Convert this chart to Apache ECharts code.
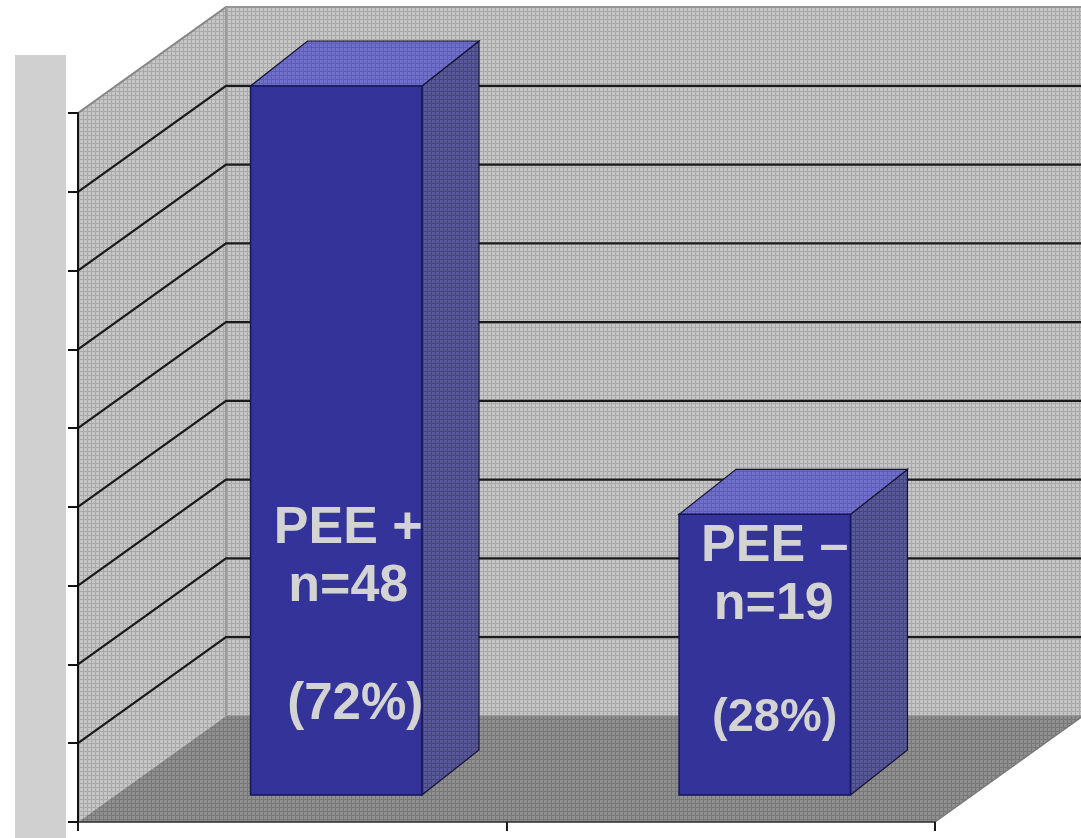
<!DOCTYPE html>
<html>
<head>
<meta charset="utf-8">
<script src="https://cdn.jsdelivr.net/npm/echarts@6/dist/echarts.min.js"></script>
<style>
  html, body { margin: 0; padding: 0; background: #ffffff; }
  #chart { width: 1081px; height: 838px; }
</style>
</head>
<body>
<div id="chart"></div>
<script>
// Patients split by PEE status
const categories = ['PEE +', 'PEE –'];
const counts = [48, 19];

// Value axis: 0..48 in nine steps
const axisMin = 0;
const axisMax = 48;
const axisSteps = 9;

const total = counts.reduce((a, b) => a + b, 0);
const percents = counts.map(c => Math.round(c / total * 100));

// Oblique 3D projection settings (pixels)
const WALL_DEPTH = [148, -106];   // front plane -> back wall
const BAR_SHIFT = [44, -27];      // front plane -> bar front face
const BAR_DEPTH = [57, -45];      // bar front face -> bar back face
const BAR_WIDTH_RATIO = 0.4;

// Text placement inside each bar: vertical offsets from the bar foot,
// horizontal offsets from the front-face centre, font sizes per line
const labelLayout = [
  { lines: [-266, -208, -90], dx: [12, 12, 19], size: [52, 52, 51] },
  { lines: [-248, -190, -77], dx: [10, 9, 10], size: [52, 52, 47] }
];

function makePattern(base, line, size) {
  const c = document.createElement('canvas');
  c.width = size; c.height = size;
  const g = c.getContext('2d');
  g.fillStyle = base;
  g.fillRect(0, 0, size, size);
  g.fillStyle = line;
  g.fillRect(size - 1, 0, 1, size);
  g.fillRect(0, size - 1, size, 1);
  return { image: c, repeat: 'repeat' };
}

const wallFill = makePattern('#c6c6c6', '#a9a9a9', 4);
const floorFill = makePattern('#8f8f8f', '#787878', 4);
const barSideFill = makePattern('#58589a', '#46467f', 4);
const barTopFill = makePattern('#7070cc', '#5d5db4', 4);

const step = (axisMax - axisMin) / axisSteps;
const gridValues = [];
for (let k = 1; k < axisSteps; k++) gridValues.push(axisMin + k * step);

function add(p, d) { return [p[0] + d[0], p[1] + d[1]]; }

function renderWalls(params, api) {
  const cs = params.coordSys;
  const x0 = cs.x, x1 = cs.x + cs.width;
  const yTop = api.coord([0, axisMax])[1];
  const yBot = api.coord([0, axisMin])[1];
  const D = WALL_DEPTH;
  const fl = [x0, yBot], fr = [x1, yBot], tl = [x0, yTop], tr = [x1, yTop];
  const children = [];
  // back wall
  children.push({
    type: 'polygon',
    shape: { points: [add(tl, D), add(tr, D), add(fr, D), add(fl, D)] },
    style: { fill: wallFill, stroke: '#969696', lineWidth: 2 }
  });
  // side wall
  children.push({
    type: 'polygon',
    shape: { points: [tl, add(tl, D), add(fl, D), fl] },
    style: { fill: wallFill, stroke: null }
  });
  children.push({
    type: 'line',
    shape: { x1: tl[0], y1: tl[1], x2: tl[0] + D[0], y2: tl[1] + D[1] },
    style: { stroke: '#858585', lineWidth: 2 }
  });
  // floor
  children.push({
    type: 'polygon',
    shape: { points: [fl, fr, add(fr, D), add(fl, D)] },
    style: { fill: floorFill, stroke: null }
  });
  children.push({
    type: 'line',
    shape: { x1: fr[0], y1: fr[1], x2: fr[0] + D[0], y2: fr[1] + D[1] },
    style: { stroke: '#777777', lineWidth: 1.5 }
  });
  // wall corner edge
  children.push({
    type: 'line',
    shape: { x1: x0 + D[0], y1: yTop + D[1], x2: x0 + D[0], y2: yBot + D[1] },
    style: { stroke: '#9a9a9a', lineWidth: 2 }
  });
  // gridlines on side wall and back wall
  gridValues.forEach(v => {
    const y = api.coord([0, v])[1];
    children.push({
      type: 'polyline',
      shape: { points: [[x0, y], [x0 + D[0], y + D[1]], [x1 + D[0], y + D[1]]] },
      style: { stroke: '#1a1a1a', lineWidth: 2.2, fill: null }
    });
  });
  return { type: 'group', children };
}

function renderBar(params, api) {
  const idx = api.value(0);
  const val = api.value(1);
  const foot = api.coord([idx, 0]);
  const head = api.coord([idx, val]);
  const bw = api.size([1, 0])[0] * BAR_WIDTH_RATIO;
  const cx = foot[0] + BAR_SHIFT[0];
  const yb = foot[1] + BAR_SHIFT[1];
  const yt = head[1] + BAR_SHIFT[1];
  const xl = cx - bw / 2, xr = cx + bw / 2;
  const B = BAR_DEPTH;
  const children = [
    {
      type: 'polygon',
      shape: { points: [[xr, yt], add([xr, yt], B), add([xr, yb], B), [xr, yb]] },
      style: { fill: barSideFill, stroke: '#121230', lineWidth: 1.2 }
    },
    {
      type: 'polygon',
      shape: { points: [[xl, yt], [xr, yt], add([xr, yt], B), add([xl, yt], B)] },
      style: { fill: barTopFill, stroke: '#121230', lineWidth: 1.2 }
    },
    {
      type: 'rect',
      shape: { x: xl, y: yt, width: bw, height: yb - yt },
      style: { fill: '#333399', stroke: '#16165e', lineWidth: 1.5 }
    }
  ];
  const i0 = params.dataIndex;
  const lay = labelLayout[i0];
  const texts = [
    categories[i0],
    'n=' + counts[i0],
    '(' + percents[i0] + '%)'
  ];
  texts.forEach((t, i) => {
    children.push({
      type: 'text',
      style: {
        x: cx + lay.dx[i],
        y: yb + lay.lines[i],
        text: t,
        fill: '#d3d3d3',
        font: 'bold ' + lay.size[i] + 'px "Liberation Sans", Arial, sans-serif',
        align: 'center',
        verticalAlign: 'middle'
      }
    });
  });
  return { type: 'group', children };
}

const chart = echarts.init(document.getElementById('chart'), null, { renderer: 'canvas' });
chart.setOption({
  animation: false,
  backgroundColor: '#ffffff',
  graphic: [{
    type: 'rect',
    z: -10,
    shape: { x: 15, y: 55, width: 51, height: 783 },
    style: { fill: '#d0d0d0' }
  }],
  grid: { left: 78, top: 113, width: 857, height: 709, outerBoundsMode: 'none', containLabel: false },
  xAxis: {
    type: 'category',
    data: categories,
    boundaryGap: true,
    z: 10,
    axisLine: { show: true, lineStyle: { color: '#2a2a2a', width: 1.5 } },
    axisTick: { show: true, length: 9, lineStyle: { color: '#1a1a1a', width: 2 } },
    axisLabel: { show: false },
    splitLine: { show: false }
  },
  yAxis: {
    type: 'value',
    min: axisMin,
    max: axisMax,
    interval: step,
    z: 10,
    axisLine: { show: true, lineStyle: { color: '#111111', width: 2 } },
    axisTick: { show: true, length: 10, lineStyle: { color: '#111111', width: 2 } },
    axisLabel: { show: false },
    splitLine: { show: false }
  },
  series: [
    {
      type: 'custom',
      z: 1,
      clip: false,
      silent: true,
      data: [[0]],
      renderItem: renderWalls
    },
    {
      type: 'custom',
      z: 5,
      clip: false,
      data: counts.map((c, i) => [i, c]),
      encode: { x: 0, y: 1 },
      renderItem: renderBar
    }
  ]
});
</script>
</body>
</html>
